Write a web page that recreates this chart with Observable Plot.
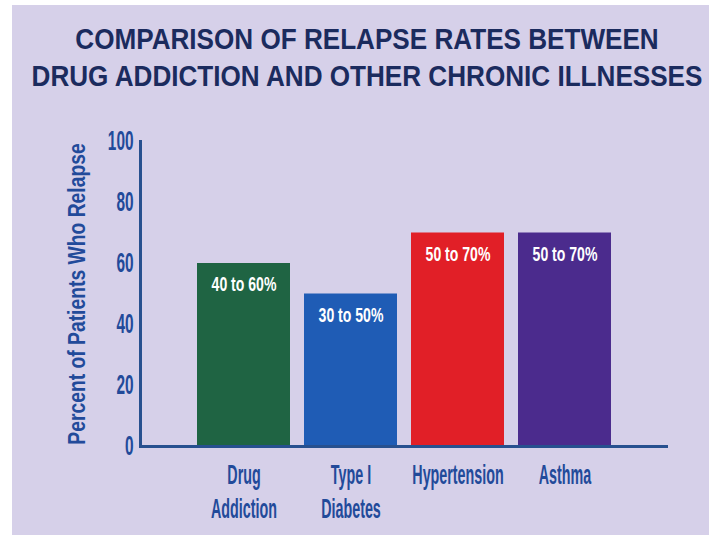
<!DOCTYPE html>
<html>
<head>
<meta charset="utf-8">
<script src="https://cdn.jsdelivr.net/npm/d3@7"></script>
<script src="https://cdn.jsdelivr.net/npm/@observablehq/plot@0.6"></script>
<style>
  html, body { margin: 0; padding: 0; background: #ffffff; }
  #card {
    position: absolute; left: 12px; top: 5px;
    width: 697px; height: 530px;
    background: #d6d0e9; overflow: hidden;
  }
  #title {
    position: absolute; top: 16px; left: 6px; width: 697px;
    font-family: "Liberation Sans", Arial, sans-serif;
    font-weight: bold; font-size: 29px; color: #1b2b5e;
  }
  #title .line { position: relative; height: 37px; line-height: 37px; }
  #title .line span {
    position: absolute; left: 50%; top: 0; white-space: nowrap;
    transform: translateX(-50%) scaleX(0.9);
  }
  #chart { position: absolute; top: 105px; left: 0; }
</style>
</head>
<body>
<div id="card">
  <div id="title">
    <div class="line"><span>COMPARISON OF RELAPSE RATES BETWEEN</span></div>
    <div class="line"><span>DRUG ADDICTION AND OTHER CHRONIC ILLNESSES</span></div>
  </div>
  <div id="chart"></div>
</div>
<script>
// Relapse rates (percent of patients) for each illness
const categories = ["Drug\nAddiction", "Type I\nDiabetes", "Hypertension", "Asthma"];
const lowRates = [40, 30, 50, 50];
const highRates = [60, 50, 70, 70];
const yTicks = [0, 20, 40, 60, 80, 100];
const yLabel = "Percent of Patients Who Relapse";

const rows = categories.map((category, i) => ({
  category,
  low: lowRates[i],
  high: highRates[i]
}));

const FONT = '"Liberation Sans", Arial, sans-serif';
const AXIS_COLOR = "#27508f";
const LABEL_COLOR = "#224a9a";

const chart = Plot.plot({
  width: 697,
  height: 425,
  marginTop: 31,
  marginBottom: 89,
  marginLeft: 128,
  marginRight: 41,
  style: { background: "transparent", fontFamily: FONT, fontWeight: "bold" },
  x: { domain: categories, range: [183, 600], paddingInner: 0.135, paddingOuter: 0 },
  y: { domain: [0, 100] },
  color: { domain: categories, range: ["#1f6443", "#1f5cb5", "#e11f27", "#4b2b8d"] },
  marks: [
    Plot.barY(rows, { x: "category", y: "high", fill: "category" }),
    Plot.text(rows, {
      x: "category", y: "high",
      text: d => `${d.low} to ${d.high}%`,
      dy: 21, fill: "white", fontSize: 21
    }),
    Plot.ruleY([0], { stroke: AXIS_COLOR, strokeWidth: 3 }),
    Plot.frame({ anchor: "left", stroke: AXIS_COLOR, strokeWidth: 3 }),
    Plot.axisY(yTicks, {
      tickSize: 0, tickPadding: 7, fontSize: 27, fill: LABEL_COLOR,
      label: yLabel,
      labelAnchor: "center", labelOffset: 72, labelArrow: "none"
    }),
    Plot.axisX({
      tickSize: 0, tickPadding: 14, fontSize: 27, lineHeight: 1.25,
      fill: LABEL_COLOR, label: null
    })
  ]
});

document.getElementById("chart").append(chart);

// Condense the labels horizontally (in their own text direction) to mimic a narrow display face;
// the scale is applied about each label's own anchor point
function squeeze(nodes, factor) {
  for (const t of nodes) {
    const tr = t.getAttribute("transform") || "";
    const x = parseFloat(t.getAttribute("x")) || 0;
    t.setAttribute("transform", `${tr} translate(${x},0) scale(${factor},1) translate(${-x},0)`);
  }
}

const texts = Array.from(chart.querySelectorAll("text"));
const inGroup = (t, name) => t.closest(`g[aria-label="${name}"]`) !== null;
const axisTitle = texts.filter(t => t.textContent === yLabel);
axisTitle.forEach(t => t.setAttribute("font-size", 23));
squeeze(axisTitle, 0.84);
squeeze(texts.filter(t => t.textContent !== yLabel && inGroup(t, "y-axis tick label")), 0.57);
squeeze(texts.filter(t => inGroup(t, "x-axis tick label")), 0.53);
squeeze(texts.filter(t => /%$/.test(t.textContent)), 0.67);
</script>
</body>
</html>
